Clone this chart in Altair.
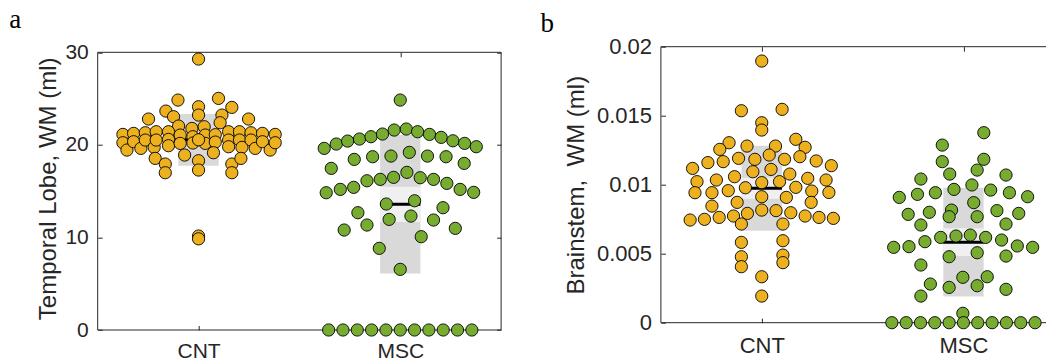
import altair as alt
import pandas as pd

groups = ["CNT", "MSC"]
group_colors = ["#EDB120", "#77AC30"]

a_cnt_vals = [29.27, 10.15, 9.85, 24.84, 25.02, 24.12, 23.22, 23.65, 24.05, 23.04, 23.22,
              22.79, 22.79, 22.03, 22.39, 21.78, 21.96,
              21.13, 20.23, 19.44, 21.24, 20.34, 19.62, 21.31, 20.52, 19.73, 21.42, 20.52,
              21.42, 20.59, 19.91, 21.06, 20.16, 20.88, 20.20, 21.06, 20.16, 21.10, 20.30,
              21.42, 20.52, 19.80, 21.42, 20.52, 19.73, 21.31, 20.52, 19.62, 21.24, 20.34,
              19.44, 21.13, 20.23, 20.55,
              18.54, 17.93, 16.99, 18.90, 18.29, 17.28, 19.15, 17.93, 16.99, 18.54]
a_cnt_jit = [0, 0, 0, -0.102, 0.099, 0, 0, -0.162, 0.165, -0.124, 0.116,
             -0.248, 0.248, -0.099, 0.107, -0.033, 0.028,
             -0.375, -0.375, -0.355, -0.322, -0.322, -0.286, -0.264, -0.264, -0.22, -0.21, -0.21,
             -0.149, -0.149, -0.149, -0.091, -0.091, -0.028, -0.028, 0.033, 0.033, 0.083, 0.083,
             0.149, 0.149, 0.149, 0.203, 0.203, 0.215, 0.26, 0.26, 0.281, 0.317, 0.317,
             0.355, 0.38, 0.38, 0.0,
             -0.215, -0.165, -0.165, -0.069, 0, 0, 0.074, 0.165, 0.165, 0.21]

a_msc_vals = [24.84,
              19.62, 20.09, 20.41, 20.63, 20.88, 21.17, 21.60, 21.71, 21.42, 21.13, 20.81, 20.44, 20.16, 19.80,
              17.46, 18.43, 18.72, 18.79, 19.19, 18.79, 18.72, 18.00,
              14.83, 15.19, 15.41, 16.12, 16.27, 16.49, 17.03, 16.45, 16.27, 15.84, 15.19, 14.87,
              13.61, 13.96, 12.67, 13.21, 11.95, 12.31, 11.34, 11.88, 10.80, 10.98, 8.82, 10.08, 6.55,
              0, 0, 0, 0, 0, 0, 0, 0, 0, 0, 0]
a_msc_jit = [0,
             -0.377, -0.317, -0.261, -0.202, -0.145, -0.088, -0.030, 0.030, 0.086, 0.145, 0.203, 0.261, 0.319, 0.377,
             -0.342, -0.228, -0.137, -0.046, 0.045, 0.135, 0.227, 0.317,
             -0.367, -0.297, -0.231, -0.165, -0.099, -0.033, 0.033, 0.099, 0.165, 0.231, 0.297, 0.364,
             -0.069, 0.071, -0.210, 0.212, -0.055, 0.053, -0.165, 0.165, -0.278, 0.273, -0.104, 0.104, 0,
             -0.355, -0.284, -0.213, -0.142, -0.071, 0, 0.071, 0.142, 0.213, 0.284, 0.355]

b_cnt_vals = [0.01896, 0.01536, 0.01546, 0.01449, 0.01396, 0.01304, 0.01256, 0.01329, 0.01271,
              0.0128, 0.0128, 0.0116, 0.01118, 0.01167, 0.01191, 0.01184, 0.01215, 0.01184,
              0.01203, 0.01172, 0.01138, 0.01094, 0.01111, 0.01022, 0.01034, 0.01058, 0.01015,
              0.01022, 0.01077, 0.01046, 0.01034, 0.00942, 0.00942, 0.00957, 0.00978, 0.00981,
              0.00954, 0.00944, 0.00913, 0.00908, 0.00845, 0.00872, 0.00872,
              0.00744, 0.00749, 0.00763, 0.00773, 0.00792, 0.00816, 0.00812, 0.00797, 0.00773,
              0.00763, 0.00756,
              0.00715, 0.00715, 0.00582, 0.00478, 0.00406, 0.00594, 0.0049, 0.00435, 0.00333, 0.00193]
b_cnt_jit = [0, -0.101, 0.101, 0, 0, -0.162, -0.208, 0.169, 0.215,
             -0.073, 0.068, -0.267, -0.343, -0.191, -0.115, -0.034, 0.037, 0.113,
             0.189, 0.27, 0.345, -0.044, 0.046, -0.321, -0.225, -0.135, 0,
             0.088, 0.139, 0.228, 0.319, -0.331, -0.247, -0.166, -0.081, 0.169,
             0.248, 0.333, 0, 0.122, -0.247, -0.122, 0.245,
             -0.355, -0.284, -0.211, -0.14, -0.071, 0, 0.071, 0.144, 0.215,
             0.284, 0.355,
             -0.101, 0.105, -0.101, -0.101, -0.101, 0.105, 0.105, 0.105, 0, 0]

b_msc_vals = [0.01377, 0.01287, 0.01184, 0.01167, 0.01106, 0.01077, 0.01041, 0.0107,
              0.00908, 0.0093, 0.00942, 0.00966, 0.00998, 0.00961, 0.00942, 0.00913,
              0.00785, 0.008, 0.00816, 0.00768, 0.0087, 0.00768, 0.00812, 0.00792,
              0.00708, 0.00715,
              0.00546, 0.00551, 0.00587, 0.00618, 0.00628, 0.00635, 0.00618, 0.00599, 0.00556, 0.00546,
              0.00478, 0.00507, 0.00483, 0.00418, 0.00329, 0.00333, 0.0028, 0.00256, 0.00268,
              0.00242, 0.00193, 0.00068,
              0, 0, 0, 0, 0, 0, 0, 0, 0, 0, 0]
b_msc_jit = [0.101, -0.105, 0.101, -0.105, 0.068, -0.068, -0.211, 0.211,
             -0.318, -0.228, -0.139, -0.047, 0.042, 0.135, 0.228, 0.318,
             -0.274, -0.169, -0.059, -0.071, 0.051, 0.068, 0.166, 0.274,
             -0.211, 0.211,
             -0.346, -0.27, -0.191, -0.113, -0.037, 0.034, 0.11, 0.189, 0.267, 0.343,
             -0.071, 0.068, 0.211, -0.211, -0.003, 0.118, -0.164, -0.071, 0.068,
             0.211, -0.211, -0.003,
             -0.355, -0.284, -0.213, -0.142, -0.071, 0, 0.071, 0.142, 0.213, 0.284, 0.355]

a_ticks = [0, 10, 20, 30]
b_ticks = [0, 0.005, 0.01, 0.015, 0.02]
x_limits = [0.5, 2.5]
a_limits = [0, 30]
b_limits = [0, 0.02]

INK = "#262626"
SANS = "Liberation Sans"
PX_PER_UNIT = 201.7


def make_df(cnt_vals, cnt_jit, msc_vals, msc_jit):
    rows = []
    for g, vals, jit in ((groups[0], cnt_vals, cnt_jit), (groups[1], msc_vals, msc_jit)):
        gi = groups.index(g) + 1
        for v, j in zip(vals, jit):
            rows.append({"group": g, "gi": gi, "val": v, "jit": j})
    return pd.DataFrame(rows)


def frame_df(xdom, ylim, right_side):
    x0, x1 = xdom
    y0, y1 = ylim
    segs = [
        {"x": x0, "x2": x1, "y": y0, "y2": y0},
        {"x": x0, "x2": x1, "y": y1, "y2": y1},
        {"x": x0, "x2": x0, "y": y0, "y2": y1},
    ]
    if right_side:
        segs.append({"x": x1, "x2": x1, "y": y0, "y2": y1})
    return pd.DataFrame(segs)


def panel(df, xdom, ylim, ydom_top, yvals, ytitle, letter, letter_x, letter_y, w, h,
          tick_fs, title_fs, xlab_pad, title_pad, top_offset, right_side):
    xs = alt.Scale(domain=xdom, nice=False, zero=False)
    ys = alt.Scale(domain=[ylim[0], ydom_top], nice=False, zero=False)
    label_expr = "datum.value == 1 ? '%s' : '%s'" % (groups[0], groups[1])

    ax_bottom = alt.Axis(orient="bottom", values=[1, 2], labelExpr=label_expr, offset=-4.5,
                         tickSize=4.5, domain=False, grid=False, title=None,
                         labelFont=SANS, labelFontSize=tick_fs, labelColor=INK,
                         tickColor=INK, tickWidth=1, labelPadding=xlab_pad)
    ax_left = alt.Axis(orient="left", values=yvals, format=".3~f", offset=-4.5, tickSize=4.5,
                       domain=False, grid=False, title=ytitle, labelFont=SANS,
                       labelFontSize=tick_fs, labelColor=INK, tickColor=INK, tickWidth=1,
                       labelPadding=9.4, titleFont=SANS, titleFontSize=title_fs,
                       titleFontWeight="normal", titleColor=INK, titlePadding=title_pad)
    ax_top = alt.Axis(orient="top", values=[1, 2], labels=False, offset=top_offset, tickSize=4.5,
                      domain=False, grid=False, title=None, tickColor=INK, tickWidth=1)

    base = alt.Chart(df)
    stats = base.transform_aggregate(
        m="mean(val)", sd="stdev(val)", se="stderr(val)", groupby=["gi"]
    ).transform_calculate(
        sd_lo="datum.m - datum.sd", sd_hi="datum.m + datum.sd",
        ci_lo="datum.m - 1.96 * datum.se", ci_hi="datum.m + 1.96 * datum.se",
        x_lo="datum.gi - 0.1", x_hi="datum.gi + 0.1",
    )

    frame = alt.Chart(frame_df(xdom, ylim, right_side)).mark_rule(
        color=INK, strokeWidth=1).encode(
        x=alt.X("x:Q", scale=xs, axis=ax_bottom), x2="x2:Q",
        y=alt.Y("y:Q", scale=ys, axis=ax_left), y2="y2:Q")
    sd_box = stats.mark_rect(color="#d9d9d9").encode(
        x=alt.X("x_lo:Q", scale=xs, axis=None), x2="x_hi:Q",
        y=alt.Y("sd_lo:Q", scale=ys, axis=None), y2="sd_hi:Q")
    ci_box = stats.mark_rect(color="#f0f0f0").encode(
        x=alt.X("x_lo:Q", scale=xs, axis=None), x2="x_hi:Q",
        y=alt.Y("ci_lo:Q", scale=ys, axis=None), y2="ci_hi:Q")
    mean_line = stats.mark_rule(color="black", strokeWidth=3).encode(
        x=alt.X("x_lo:Q", scale=xs, axis=None), x2="x_hi:Q",
        y=alt.Y("m:Q", scale=ys, axis=None))
    pts = base.transform_calculate(xpos="datum.gi + datum.jit").mark_circle(
        size=150, opacity=1, stroke="black", strokeWidth=0.9).encode(
        x=alt.X("xpos:Q", scale=xs, axis=None),
        y=alt.Y("val:Q", scale=ys, axis=None),
        fill=alt.Fill("group:N", scale=alt.Scale(domain=groups, range=group_colors), legend=None))
    layers = [frame, sd_box, ci_box, mean_line, pts]
    top_ticks = stats.mark_rule(opacity=0).encode(
        x=alt.X("gi:Q", scale=xs, axis=ax_top), y=alt.Y("m:Q", scale=ys, axis=None))
    layers.append(top_ticks)
    if right_side:
        ax_right = alt.Axis(orient="right", values=yvals, labels=False, offset=-4.5, tickSize=4.5,
                            domain=False, grid=False, title=None, tickColor=INK, tickWidth=1)
        right_ticks = stats.mark_rule(opacity=0).encode(
            x=alt.X("gi:Q", scale=xs, axis=None), y=alt.Y("m:Q", scale=ys, axis=ax_right))
        layers.append(right_ticks)
    letter_mark = alt.Chart(pd.DataFrame({"t": [letter]})).mark_text(
        align="left", baseline="alphabetic", font="Liberation Serif", fontSize=27,
        color="black").encode(text="t:N", x=alt.value(letter_x), y=alt.value(letter_y))
    layers.append(letter_mark)

    return alt.layer(*layers).resolve_axis(
        x="independent", y="independent").properties(width=w, height=h)


df_a = make_df(a_cnt_vals, a_cnt_jit, a_msc_vals, a_msc_jit)
df_b = make_df(b_cnt_vals, b_cnt_jit, b_msc_vals, b_msc_jit)

LEFT_A = 97.7
TOP = 46.7
GAP = 159.2
PAGE_W = 1046

a_w = PX_PER_UNIT * (x_limits[1] - x_limits[0])
a_h_frame = 277.7
a_h = a_h_frame + 5.6
a_dom_top = a_limits[1] * a_h / a_h_frame

b_left = LEFT_A + a_w + GAP
b_w = PAGE_W - b_left
b_xdom = [x_limits[0], x_limits[0] + b_w / PX_PER_UNIT]

chart_a = panel(df_a, x_limits, a_limits, a_dom_top, a_ticks, "Temporal Lobe, WM (ml)", "a",
                -88.5, -18.7, a_w, a_h, 21, 24, 10, 4, -10.1, True)
chart_b = panel(df_b, b_xdom, b_limits, b_limits[1], b_ticks, "Brainstem, \u00a0WM (ml)", "b",
                -120.5, -15, b_w, 276, 22, 24, 12.3, 8, -4.5, False)

chart = alt.hconcat(chart_a, chart_b, spacing=GAP, bounds="flush").properties(
    autosize=alt.AutoSizeParams(type="none"),
    padding={"left": LEFT_A, "top": TOP, "right": PAGE_W - LEFT_A, "bottom": 360 - TOP},
).configure_view(strokeOpacity=0)

chart.save("out.html", embed_options={"renderer": "svg", "actions": False})
